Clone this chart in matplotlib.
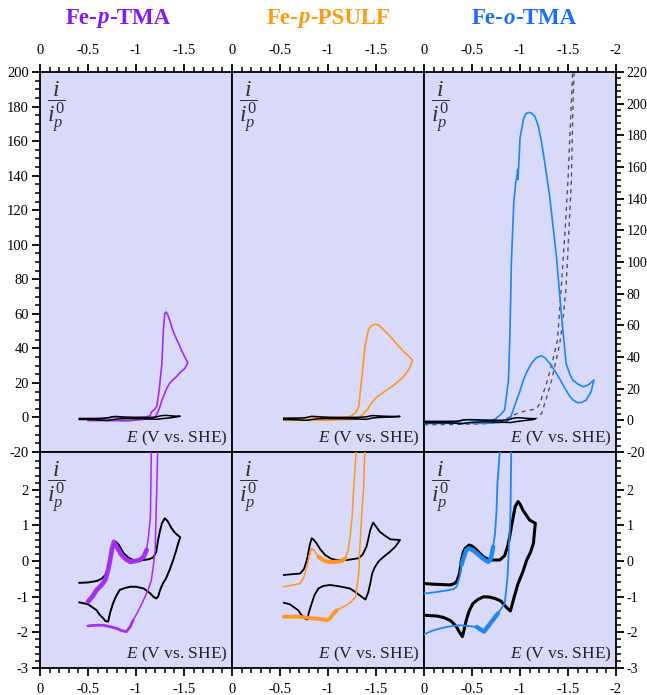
import numpy as np
import matplotlib.pyplot as plt
from matplotlib.offsetbox import TextArea, HPacker, AnnotationBbox

plt.rcParams['font.family'] = ['Liberation Serif', 'DejaVu Serif']
plt.rcParams['mathtext.fontset'] = 'custom'
plt.rcParams['mathtext.rm'] = 'Liberation Serif'
plt.rcParams['mathtext.it'] = 'Liberation Serif:italic'
plt.rcParams['mathtext.bf'] = 'Liberation Serif:bold'
plt.rcParams['axes.unicode_minus'] = False

# ---- Fe-p-TMA ----
tma_black_x = [-0.41, -0.50, -0.59, -0.64, -0.68, -0.71, -0.73, -0.76, -0.79, -0.82, -0.87, -0.92, -0.97,
               -1.03, -1.08, -1.13, -1.18, -1.21, -1.23, -1.25, -1.27, -1.30, -1.33, -1.37, -1.41, -1.46,
               -1.44, -1.42, -1.39, -1.35, -1.31, -1.28, -1.25, -1.23, -1.21, -1.18, -1.15, -1.08, -1.00,
               -0.94, -0.88, -0.83, -0.79, -0.76, -0.73, -0.71, -0.68, -0.66, -0.62, -0.59, -0.50, -0.41]
tma_black_y = [-0.61, -0.60, -0.56, -0.50, -0.39, -0.20, 0.03, 0.40, 0.54, 0.46, 0.22, 0.10, 0.03,
               0.02, 0.03, 0.05, 0.10, 0.25, 0.59, 0.85, 1.06, 1.20, 1.12, 0.92, 0.78, 0.67,
               0.50, 0.31, 0.05, -0.25, -0.50, -0.63, -0.82, -1.00, -1.05, -1.00, -0.91, -0.77, -0.72,
               -0.72, -0.76, -0.81, -1.00, -1.19, -1.45, -1.70, -1.68, -1.61, -1.50, -1.38, -1.21, -1.16]
tma_fwd_x = [-0.50, -0.55, -0.59, -0.64, -0.68, -0.71, -0.73, -0.75, -0.77, -0.80, -0.85, -0.90, -0.94,
             -0.99, -1.04, -1.08, -1.11, -1.13, -1.15, -1.16, -1.19, -1.215, -1.24, -1.27, -1.285, -1.30,
             -1.315, -1.33, -1.35, -1.38, -1.41, -1.45, -1.48, -1.51, -1.54]
tma_fwd_y = [-1.14, -0.98, -0.81, -0.68, -0.53, -0.25, 0.03, 0.35, 0.54, 0.40, 0.17, 0.04, -0.02,
             0.0, 0.03, 0.12, 0.31, 0.70, 1.24, 3.1, 4.5, 6.3, 15.0, 31.4, 50.7, 60.3,
             61.0, 59.5, 56.5, 51.0, 46.8, 42.0, 38.1, 34.8, 31.7]
tma_rev_x = [-1.54, -1.51, -1.46, -1.42, -1.38, -1.35, -1.32, -1.30, -1.27, -1.25, -1.23, -1.21, -1.20,
             -1.18, -1.16, -1.13, -1.11, -1.06, -1.01, -0.97, -0.94, -0.90, -0.85, -0.80, -0.73, -0.66,
             -0.58, -0.50]
tma_rev_y = [31.7, 28.5, 26.0, 23.6, 21.5, 19.8, 16.8, 14.0, 10.0, 6.3, 3.5, 1.4, 0.31,
             -0.15, -0.53, -0.78, -0.91, -1.20, -1.47, -1.66, -1.84, -1.98, -1.95, -1.89, -1.84, -1.80,
             -1.80, -1.82]

# ---- Fe-p-PSULF ----
sulf_black_x = [-0.54, -0.62, -0.71, -0.75, -0.78, -0.81, -0.83, -0.85, -0.88, -0.92, -0.97, -1.03, -1.09,
                -1.20, -1.32, -1.36, -1.40, -1.42, -1.44, -1.47, -1.50, -1.54, -1.60, -1.65, -1.75,
                -1.70, -1.64, -1.58, -1.53, -1.49, -1.46, -1.44, -1.42, -1.39, -1.36, -1.33, -1.28, -1.23,
                -1.12, -1.02, -0.95, -0.90, -0.86, -0.83, -0.80, -0.785, -0.76, -0.72, -0.69, -0.60, -0.54]
sulf_black_y = [-0.39, -0.37, -0.35, -0.22, 0.03, 0.45, 0.64, 0.60, 0.50, 0.33, 0.17, 0.07, 0.03,
                0.03, 0.08, 0.18, 0.40, 0.62, 0.87, 1.08, 0.97, 0.82, 0.70, 0.61, 0.59,
                0.40, 0.25, 0.12, 0.0, -0.16, -0.35, -0.63, -0.87, -1.08, -1.02, -0.96, -0.86, -0.77,
                -0.71, -0.67, -0.70, -0.77, -0.95, -1.19, -1.45, -1.64, -1.61, -1.50, -1.38, -1.21, -1.17]
sulf_fwd_x = [-0.54, -0.62, -0.71, -0.75, -0.78, -0.81, -0.83, -0.86, -0.90, -0.95, -0.99, -1.04, -1.09,
              -1.14, -1.18, -1.21, -1.23, -1.25, -1.26, -1.29, -1.32, -1.35, -1.385, -1.42, -1.45, -1.49,
              -1.53, -1.58, -1.63, -1.68, -1.74, -1.79, -1.84, -1.88]
sulf_fwd_y = [-0.72, -0.68, -0.63, -0.45, -0.16, 0.20, 0.36, 0.28, 0.12, 0.03, -0.02, -0.03, -0.02,
              0.0, 0.08, 0.30, 0.68, 1.20, 1.71, 2.93, 6.3, 21.7, 41.0, 50.7, 53.0, 54.0,
              53.3, 50.7, 48.0, 44.9, 41.0, 38.1, 35.5, 33.3]
sulf_rev_x = [-1.88, -1.85, -1.80, -1.75, -1.68, -1.61, -1.56, -1.51, -1.47, -1.44, -1.41, -1.385, -1.37,
              -1.35, -1.33, -1.32, -1.30, -1.29, -1.24, -1.19, -1.14, -1.09, -1.05, -1.02, -0.99, -0.95,
              -0.90, -0.85, -0.76, -0.67, -0.60, -0.54]
sulf_rev_y = [33.3, 28.5, 24.5, 21.7, 18.5, 15.9, 13.8, 12.0, 9.5, 7.2, 4.5, 3.2, 2.0,
              1.24, 0.3, -0.35, -0.75, -1.0, -1.15, -1.24, -1.31, -1.38, -1.50, -1.61, -1.66, -1.64,
              -1.62, -1.61, -1.58, -1.56, -1.56, -1.56]

# ---- Fe-o-TMA ----
otma_black_x = [0.0, -0.10, -0.20, -0.27, -0.31, -0.34, -0.37, -0.39, -0.41, -0.43, -0.47, -0.50, -0.53,
                -0.58, -0.62, -0.66, -0.705, -0.79, -0.84, -0.87, -0.89, -0.91, -0.93, -0.95, -0.98, -1.00,
                -1.03, -1.07, -1.10, -1.16,
                -1.15, -1.14, -1.11, -1.07, -1.03, -0.98, -0.94, -0.90, -0.87, -0.84, -0.80, -0.74, -0.68,
                -0.62, -0.56, -0.51, -0.47, -0.44, -0.42, -0.40, -0.37, -0.34, -0.30, -0.27, -0.20, -0.13, 0.0]
otma_black_y = [-0.63, -0.65, -0.66, -0.67, -0.64, -0.58, -0.35, 0.03, 0.25, 0.36, 0.45, 0.42, 0.36,
                0.22, 0.12, 0.06, 0.03, 0.03, 0.15, 0.40, 0.65, 0.96, 1.25, 1.53, 1.67, 1.60,
                1.43, 1.27, 1.15, 1.06,
                0.80, 0.50, 0.25, 0.03, -0.30, -0.63, -1.00, -1.40, -1.33, -1.24, -1.12, -1.05, -1.01,
                -1.00, -1.08, -1.19, -1.40, -1.66, -1.90, -2.12, -2.00, -1.85, -1.73, -1.66, -1.58, -1.54, -1.52]
otma_fwd_x = [0.0, -0.10, -0.20, -0.27, -0.31, -0.34, -0.37, -0.39, -0.42, -0.44, -0.47, -0.51, -0.55,
              -0.60, -0.635, -0.67, -0.69, -0.705, -0.72, -0.74, -0.755, -0.765, -0.79, -0.84, -0.88, -0.896,
              -0.91, -0.935, -0.955, -0.97, -0.976, -0.979, -0.99, -1.0, -1.035, -1.06, -1.085, -1.12, -1.155,
              -1.19, -1.22, -1.26, -1.31, -1.345, -1.38, -1.43, -1.48, -1.52, -1.55, -1.60, -1.66, -1.71, -1.77]
otma_fwd_y = [-0.91, -0.88, -0.84, -0.81, -0.78, -0.72, -0.45, -0.11, 0.15, 0.31, 0.36, 0.30, 0.22,
              0.10, 0.03, -0.02, 0.03, 0.17, 0.40, 0.78, 1.40, 2.18, 3.1, 6.5, 25.5, 57,
              99, 137, 150, 155, 158.5, 152, 165, 178, 190, 193.5, 194.5, 194, 192,
              186, 177, 162, 141, 122, 103, 67.6, 36, 29, 25.5, 23, 21.2, 22.3, 25.5]
otma_rev_x = [-1.77, -1.74, -1.69, -1.64, -1.60, -1.55, -1.52, -1.47, -1.42, -1.36, -1.31, -1.26, -1.22,
              -1.17, -1.12, -1.07, -1.035, -1.00, -0.965, -0.935, -0.91, -0.90, -0.885, -0.87, -0.855, -0.84,
              -0.77, -0.69, -0.625, -0.55, -0.45, -0.375, -0.25, -0.17, -0.08, 0.0]
otma_rev_y = [25.5, 18.0, 12.8, 11.3, 11.1, 13.0, 15.0, 20.0, 25.5, 31.5, 36.0, 39.5, 40.8,
              39.5, 36.0, 30.5, 25.5, 18.5, 12.8, 7.5, 3.3, 1.24, 0.4, -0.44, -0.85, -1.19,
              -1.47, -1.75, -1.98, -1.85, -1.82, -1.80, -1.84, -1.89, -1.96, -2.06]
# dashed trace (top panel only)
otma_dash1_x = [0.0, -0.3, -0.6, -0.8, -0.93, -1.0, -1.07, -1.12, -1.175, -1.21, -1.24, -1.27, -1.295,
                -1.33, -1.365, -1.39, -1.43, -1.47, -1.50, -1.53, -1.545, -1.55]
otma_dash1_y = [-2.8, -2.6, -2.2, -1.0, 3.3, 5.0, 6.1, 6.6, 7.6, 11.0, 17.0, 22.0, 27.5,
                35.0, 44.0, 50.7, 84, 120, 152, 194, 215, 225]
otma_dash2_x = [-1.565, -1.55, -1.535, -1.51, -1.48, -1.45, -1.42, -1.40, -1.365, -1.33, -1.28, -1.225,
                -1.175, -1.13]
otma_dash2_y = [225, 194, 152, 120, 84, 65, 50.8, 44.4, 35, 25.5, 15, 4.4, 1.3, 0.5]

titles = [("Fe-", "p", "-TMA"), ("Fe-", "p", "-PSULF"), ("Fe-", "o", "-TMA")]
e_label = r'$E$ (V vs. SHE)'
i_label = r'$\dfrac{i}{i_p^0}$'

BG = '#D9D9FA'
panels = [
    dict(black=(tma_black_x, tma_black_y), fwd=(tma_fwd_x, tma_fwd_y), rev=(tma_rev_x, tma_rev_y),
         color='#A22CF2', tcolor='#8419F5', black_lw=1.4, base_lw=1.1,
         fband=(-1.12, -0.50, 3.4), rband=(-0.97, -0.50, 2.0), title_x=118),
    dict(black=(sulf_black_x, sulf_black_y), fwd=(sulf_fwd_x, sulf_fwd_y), rev=(sulf_rev_x, sulf_rev_y),
         color='#FF961F', tcolor='#FF9A12', black_lw=1.3, base_lw=1.1,
         fband=(-1.20, -0.88, 3.0), rband=(-1.12, -0.54, 2.8), title_x=328),
    dict(black=(otma_black_x, otma_black_y), fwd=(otma_fwd_x, otma_fwd_y), rev=(otma_rev_x, otma_rev_y),
         color='#1E86F2', tcolor='#1A6EFF', black_lw=2.2, base_lw=1.3,
         fband=(-0.72, -0.38, 3.2), rband=(-0.80, -0.50, 3.2), title_x=524),
]

W, H = 647, 695
fig = plt.figure(figsize=(W / 100, H / 100), dpi=100)

col_x = [40, 232, 424]
col_w = 192
top_y0, top_y1, bot_y1 = 72, 452, 668


def px_axes(x0, y0, x1, y1):
    return fig.add_axes([x0 / W, 1 - y1 / H, (x1 - x0) / W, (y1 - y0) / H])


x_minor = [-v / 10 for v in range(0, 21) if v % 5 != 0]

for c, p in enumerate(panels):
    x0 = col_x[c]
    top = px_axes(x0, top_y0, x0 + col_w, top_y1)
    bot = px_axes(x0, top_y1, x0 + col_w, bot_y1)

    for ax in (top, bot):
        ax.set_facecolor(BG)
        ax.set_xlim(0, -2)
        for s in ax.spines.values():
            s.set_linewidth(1.3)
        ax.tick_params(which='major', direction='out', length=6, width=1.3, labelsize=10.5, color='black')
        ax.tick_params(which='minor', direction='out', length=3.5, width=1.1)
        ax.annotate(i_label, xy=(0, 1), xycoords='axes fraction', xytext=(5, -5),
                    textcoords='offset points', ha='left', va='top', fontsize=17, color='#333333')
        ax.annotate(e_label, xy=(1, 0), xycoords='axes fraction', xytext=(-3, 3),
                    textcoords='offset points', ha='right', va='bottom', fontsize=12.5, color='#222222')

    # --- top row: full scale ---
    top.set_ylim(-20, 220 if c == 2 else 200)
    if c == 2:
        top.plot(otma_dash1_x, otma_dash1_y, color='#555555', lw=1.0, ls=(0, (3, 3)), zorder=2)
        top.plot(otma_dash2_x, otma_dash2_y, color='#555555', lw=1.0, ls=(0, (3, 3)), zorder=2)
    fx, fy = p['fwd']
    rx, ry = p['rev']
    top.plot(fx + rx, fy + ry, color=p['color'], lw=1.2, zorder=3)
    top.plot(*p['black'], color='black', lw=1.1, zorder=4)

    # --- bottom row: zoom ---
    bot.set_ylim(-3, 3.06)
    bot.plot(*p['black'], color='black', lw=p['black_lw'], zorder=3)
    bot.plot(fx + rx, fy + ry, color=p['color'], lw=p['base_lw'], zorder=4)
    for (xs, ys), (lo, hi, lw) in ((p['fwd'], p['fband']), (p['rev'], p['rband'])):
        xs_a, ys_a = np.array(xs), np.array(ys)
        m = (xs_a >= lo) & (xs_a <= hi)
        bot.plot(xs_a[m], ys_a[m], color=p['color'], lw=lw, alpha=0.95, zorder=4,
                 solid_capstyle='round')

    # x ticks
    majors = [0, -0.5, -1, -1.5, -2] if c == 2 else [0, -0.5, -1, -1.5]
    labels = ['0', '-0.5', '-1', '-1.5', '-2'][:len(majors)]
    top.xaxis.tick_top()
    top.set_xticks(majors)
    top.set_xticklabels(labels)
    top.set_xticks(x_minor, minor=True)
    top.tick_params(axis='x', which='major', pad=5)
    bot.set_xticks(majors)
    bot.set_xticklabels(labels)
    bot.set_xticks(x_minor, minor=True)
    bot.tick_params(axis='x', which='major', pad=5)

    # y ticks
    if c == 1:
        for ax in (top, bot):
            ax.tick_params(axis='y', which='both', left=False, right=False, labelleft=False, labelright=False)
    else:
        if c == 0:
            top_major = list(range(-20, 201, 20))
            top_minor = [v for v in range(-20, 201, 5) if v % 20 != 0]
        else:
            top_major = list(range(-20, 221, 20))
            top_minor = [v for v in range(-20, 221, 4) if v % 20 != 0]
        bot_major = [-3, -2, -1, 0, 1, 2]
        bot_minor = [v / 5 for v in range(-15, 16) if v % 5 != 0]
        top.set_yticks(top_major)
        top.set_yticklabels([str(v) for v in top_major])
        top.set_yticks(top_minor, minor=True)
        bot.set_yticks(bot_major)
        bot.set_yticklabels([str(v) for v in bot_major])
        bot.set_yticks(bot_minor, minor=True)
        for ax in (top, bot):
            if c == 2:
                ax.yaxis.tick_right()
                ax.tick_params(axis='y', which='major', pad=1.5, labelsize=10)
            else:
                ax.tick_params(axis='y', which='major', pad=2)

    # title with italic letter
    pre, mid, post = titles[c]
    tp = dict(fontsize=16.5, fontweight='bold', color=p['tcolor'], family='Liberation Serif')
    box = HPacker(children=[TextArea(pre, textprops=tp),
                            TextArea(mid, textprops=dict(tp, fontstyle='italic')),
                            TextArea(post, textprops=tp)],
                  align='baseline', pad=0, sep=0)
    ab = AnnotationBbox(box, (p['title_x'], H - 18), xycoords='figure pixels',
                        frameon=False, box_alignment=(0.5, 0.5))
    fig.add_artist(ab)

fig.savefig('out.png', dpi=100, facecolor='white')
